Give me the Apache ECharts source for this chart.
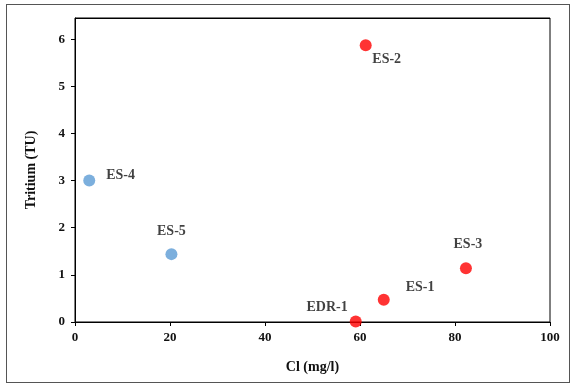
<!DOCTYPE html>
<html>
<head>
<meta charset="utf-8">
<script src="https://cdn.jsdelivr.net/npm/echarts@6/dist/echarts.min.js"></script>
<style>
  html, body { margin: 0; padding: 0; background: #fff; }
  #frame { position: absolute; left: 6px; top: 4px; width: 564px; height: 379px; border: 1px solid #555; box-sizing: border-box; }
  #chart { position: absolute; left: 0; top: 0; width: 576px; height: 386px; }
</style>
</head>
<body>
<div id="frame"></div>
<div id="chart"></div>
<script>
// 样点名称及数值
const redNames = ['ES-2', 'ES-3', 'ES-1', 'EDR-1'];
const redCl = [61.2, 82.3, 65, 59.1];
const redTritium = [5.87, 1.14, 0.47, 0.01];
const blueNames = ['ES-4', 'ES-5'];
const blueCl = [3, 20.3];
const blueTritium = [3.0, 1.44];
const xTicks = [0, 20, 40, 60, 80, 100];
const yTicks = [0, 1, 2, 3, 4, 5, 6];
const yMax = 6.45;

// 标签位置（仅样式）
const labelPos = {
  'ES-2': { position: 'bottom', offset: [21, -4] },
  'ES-3': { position: 'top', offset: [2, -6] },
  'ES-1': { position: 'right', offset: [11, -12] },
  'EDR-1': { position: 'left', offset: [3, -14] },
  'ES-4': { position: 'right', offset: [6, -5] },
  'ES-5': { position: 'top', offset: [0, -5] }
};

const font = '"Liberation Serif", "Times New Roman", serif';

function buildData(names, xs, ys) {
  return names.map((n, i) => ({
    name: n,
    value: [xs[i], ys[i]],
    label: labelPos[n]
  }));
}

const chart = echarts.init(document.getElementById('chart'));
chart.setOption({
  animation: false,
  grid: {
    left: 75, right: 26, top: 18, bottom: 64,
    show: true, borderColor: '#000', borderWidth: 1, backgroundColor: 'transparent'
  },
  xAxis: {
    type: 'value', min: 0, max: 100, interval: 20,
    name: 'Cl (mg/l)', nameLocation: 'middle', nameGap: 38,
    nameTextStyle: { fontFamily: font, fontWeight: 'bold', fontSize: 14, color: '#111' },
    axisLine: { show: true, onZero: false, lineStyle: { color: '#000', width: 1 } },
    axisTick: { show: true, length: 4, lineStyle: { color: '#000' } },
    axisLabel: {
      fontFamily: font, fontWeight: 'bold', fontSize: 13, color: '#111', margin: 9,
      formatter: v => (xTicks.includes(v) ? String(v) : '')
    },
    splitLine: { show: false }
  },
  yAxis: {
    type: 'value', min: 0, max: yMax, interval: 1,
    name: 'Tritium (TU)', nameLocation: 'middle', nameGap: 37,
    nameTextStyle: { fontFamily: font, fontWeight: 'bold', fontSize: 14, color: '#111' },
    axisLine: { show: true, onZero: false, lineStyle: { color: '#000', width: 1 } },
    axisTick: { show: true, length: 4, lineStyle: { color: '#000' } },
    axisLabel: {
      fontFamily: font, fontWeight: 'bold', fontSize: 13, color: '#111', margin: 10,
      showMaxLabel: false,
      formatter: v => (yTicks.includes(v) ? String(v) : '')
    },
    splitLine: { show: false }
  },
  series: [
    {
      type: 'scatter', symbolSize: 12,
      itemStyle: { color: '#ff0000' },
      label: { show: true, formatter: '{b}', fontFamily: font, fontWeight: 'bold', fontSize: 14, color: '#111' },
      data: buildData(redNames, redCl, redTritium),
      // 图框上边线
      markLine: {
        silent: true, symbol: 'none', label: { show: false },
        lineStyle: { color: '#000', width: 1, type: 'solid' },
        data: [{ yAxis: yMax }]
      }
    },
    {
      type: 'scatter', symbolSize: 12,
      itemStyle: { color: '#5b9bd5' },
      label: { show: true, formatter: '{b}', fontFamily: font, fontWeight: 'bold', fontSize: 14, color: '#111' },
      data: buildData(blueNames, blueCl, blueTritium)
    }
  ]
});
</script>
</body>
</html>
